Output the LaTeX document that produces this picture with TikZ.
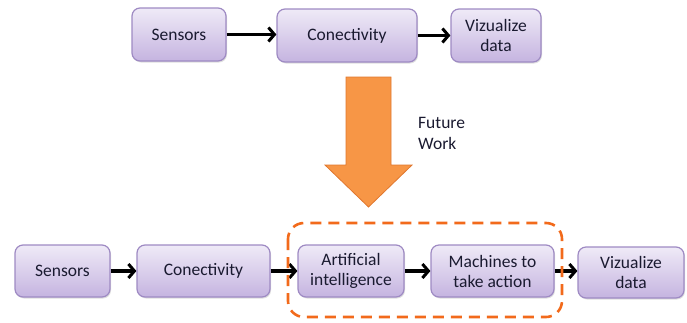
\documentclass[tikz,border=0pt]{standalone}
\usepackage{fontspec}
\setmainfont{Carlito}
\usetikzlibrary{arrows.meta,shadows}
\definecolor{boxtop}{HTML}{EFEAF7}
\definecolor{boxbot}{HTML}{C5B4E0}
\definecolor{boxline}{HTML}{9E8AC3}
\definecolor{boxtext}{HTML}{1A1A30}
\definecolor{arrfill}{HTML}{F79646}
\definecolor{arrline}{HTML}{E0772E}
\definecolor{dashorange}{HTML}{F26A1B}
\tikzset{
  stepbox/.style={draw=boxline, line width=1.2pt, rounded corners=8pt,
    top color=boxtop, bottom color=boxbot, text=boxtext,
    align=center, inner sep=2pt,
    font=\fontsize{17.5}{20}\selectfont,
    drop shadow={opacity=0.25, shadow xshift=1pt, shadow yshift=-1.5pt}},
  flow/.style={line width=3.4pt, black,
    -{Straight Barb[length=6pt, width=14pt, line width=3pt]}},
  label/.style={text=boxtext, align=left, font=\fontsize{17.5}{21}\selectfont}
}
\begin{document}
\begin{tikzpicture}[x=1pt, y=-1pt]
\useasboundingbox (0,0) rectangle (687,322);

% current pipeline
\node[stepbox, minimum width=94pt, minimum height=53pt] (s1) at (179,34.5) {Sensors};
\node[stepbox, minimum width=140pt, minimum height=53pt] (c1) at (347,35.5) {Conectivity};
\node[stepbox, minimum width=90pt, minimum height=53pt] (v1) at (496,35.5) {Vizualize\\data};
\draw[flow] (s1.east) -- (s1.east -| c1.west);
\draw[flow] (c1.east) -- (v1.west);

% transition arrow
\filldraw[fill=arrfill, draw=arrline, line width=0.8pt]
  (346,77) -- (391,77) -- (391,165) -- (412,165) -- (368.5,207)
  -- (325,165) -- (346,165) -- cycle;
\node[label, anchor=north west, inner sep=0pt] (fw) at (418,117) {Future\\Work};

% extended pipeline
\node[stepbox, minimum width=95pt, minimum height=52pt] (s2) at (62.5,271) {Sensors};
\node[stepbox, minimum width=133pt, minimum height=52pt] (c2) at (203.5,271) {Conectivity};
\node[stepbox, minimum width=106pt, minimum height=52pt] (a2) at (351,271) {Artificial\\intelligence};
\node[stepbox, minimum width=123pt, minimum height=52pt] (m2) at (492.5,271) {Machines to\\take action};
\node[stepbox, minimum width=106pt, minimum height=51pt] (v2) at (631,272.5) {Vizualize\\data};
\draw[flow] (s2.east) -- (c2.west);
\draw[flow] (c2.east) -- (a2.west);
\draw[flow] (a2.east) -- (m2.west);
\draw[flow] (m2.east) -- (m2.east -| v2.west);

% new stages highlighted
\draw[dashorange, line width=2.6pt, dash pattern=on 11pt off 7pt, rounded corners=16pt]
  (288,223) rectangle (562,317);
\end{tikzpicture}
\end{document}
